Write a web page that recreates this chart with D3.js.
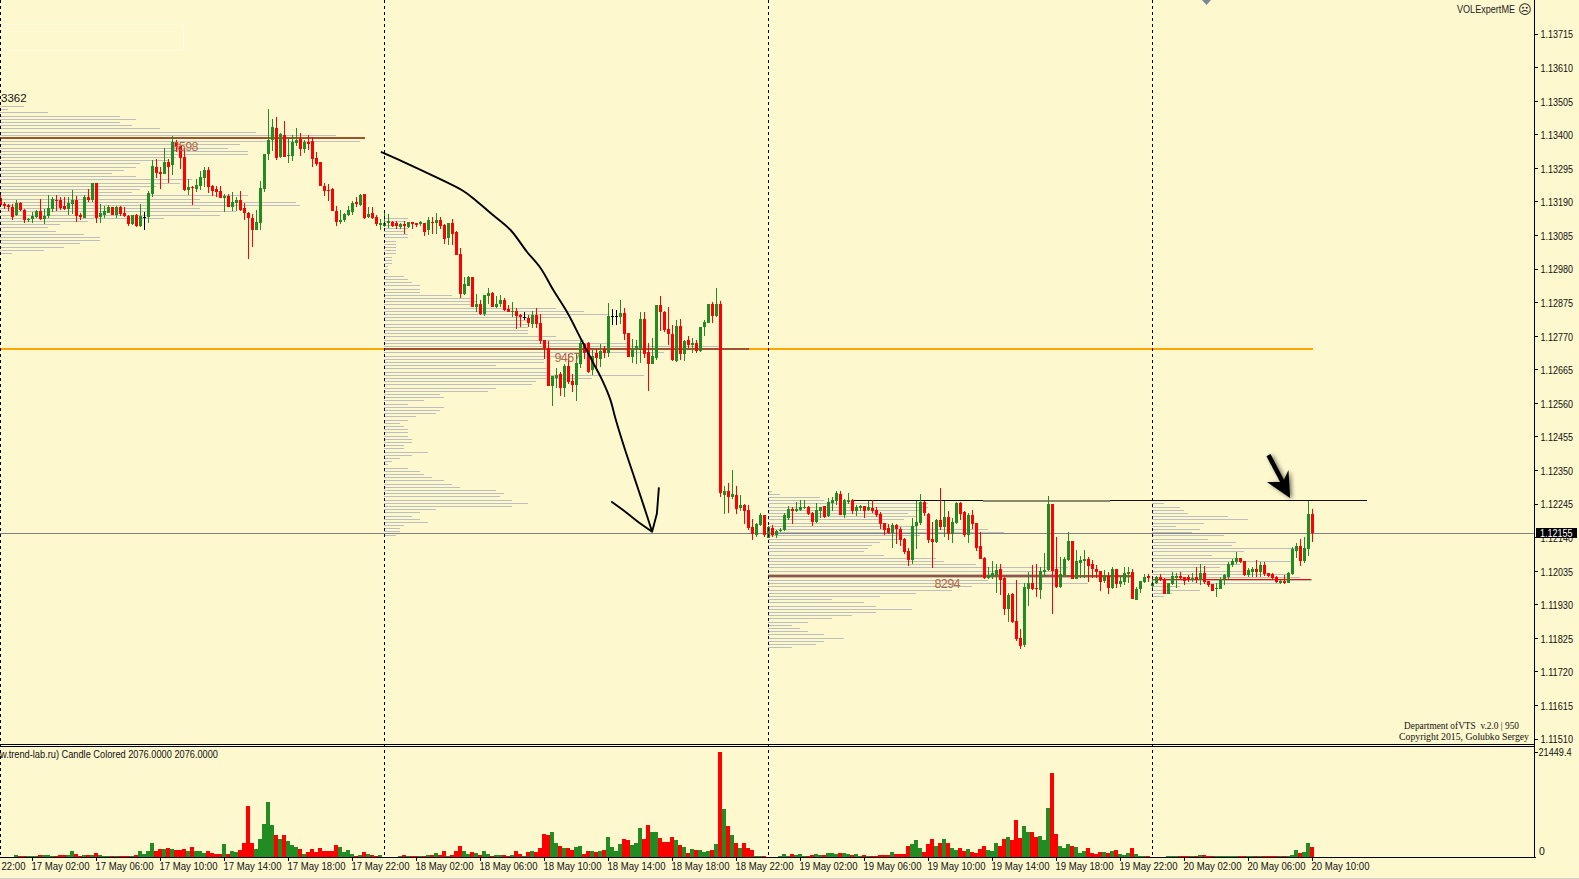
<!DOCTYPE html>
<html><head><meta charset="utf-8">
<script src="https://cdn.jsdelivr.net/npm/d3@7/dist/d3.min.js"></script>
<style>html,body{margin:0;padding:0;background:#FEF8CE;overflow:hidden}svg{display:block}text{font-family:"Liberation Sans",Arial,sans-serif}</style>
</head><body><div id="chart"></div>
<script>
// Prices in points above 1.00000 (13211 = 1.13211). One 15-minute candle per entry, starting 16 May 22:00.
const highs=[13211,13190,13183,13183,13196,13190,13169,13141,13159,13164,
13198,13169,13213,13206,13210,13206,13206,13204,13227,13208,
13156,13211,13229,13248,13248,13183,13177,13180,13175,13177,
13177,13173,13149,13149,13152,13183,13158,13225,13321,13323,
13298,13360,13323,13396,13383,13367,13357,13260,13241,13262,
13287,13298,13298,13242,13239,13239,13216,13216,13220,13205,
13223,13185,13159,13152,13166,13255,13339,13480,13448,13456,
13406,13442,13394,13399,13420,13404,13385,13399,13392,13345,
13315,13248,13245,13232,13177,13164,13156,13177,13193,13204,
13216,13214,13173,13173,13149,13135,13159,13152,13131,13131,
13125,13131,13128,13127,13123,13130,13125,13142,13144,13154,
13142,13120,13125,13136,13099,13045,12954,12958,12955,12902,
12883,12899,12920,12907,12896,12899,12888,12867,12877,12857,
12839,12847,12836,12849,12858,12839,12758,12756,12645,12669,
12659,12683,12714,12652,12716,12755,12750,12753,12727,12729,
12744,12739,12873,12855,12852,12883,12857,12781,12760,12758,
12847,12846,12750,12763,12867,12896,12850,12862,12805,12821,
12823,12758,12770,12763,12758,12800,12821,12871,12878,12920,
12880,12301,12310,12351,12301,12273,12245,12242,12197,12187,
12216,12211,12176,12178,12164,12169,12216,12239,12237,12252,
12258,12258,12239,12221,12249,12237,12239,12263,12266,12285,
12285,12260,12278,12260,12242,12242,12239,12254,12258,12237,
12220,12187,12182,12185,12182,12174,12138,12106,12200,12254,
12276,12255,12216,12190,12197,12295,12254,12223,12200,12252,
12250,12223,12216,12226,12185,12157,12078,12047,12066,12057,
12057,12016,11966,11966,12007,11853,11997,12032,12054,12057,
12047,12091,12270,12245,12141,12078,12078,12156,12128,12101,
12082,12101,12078,12070,12054,12036,12039,12033,12047,12042,
12020,12047,12049,12041,11986,12005,12026,12026,12018,12020,
12025,12012,11999,12033,12028,12033,12018,12023,12028,12049,
12057,12051,12004,11995,11997,12018,12026,12065,12072,12095,
12076,12068,12044,12049,12070,12065,12065,12030,12028,12020,
12007,12023,12033,12112,12122,12134,12141,12255,12228];
const lows=[13177,13168,13162,13133,13145,13162,13125,13127,13125,13139,
13133,13121,13141,13159,13162,13166,13166,13148,13151,13128,
13133,13140,13189,13190,13125,13125,13139,13154,13149,13141,
13145,13143,13114,13118,13112,13112,13102,13125,13206,13266,
13229,13277,13250,13274,13347,13294,13224,13211,13180,13222,
13227,13237,13218,13209,13204,13202,13159,13173,13162,13162,
13162,13133,13011,13049,13102,13102,13222,13321,13350,13321,
13327,13329,13310,13319,13364,13333,13344,13352,13300,13302,
13239,13208,13193,13161,13114,13120,13127,13145,13149,13173,
13177,13137,13138,13135,13116,13102,13112,13107,13110,13104,
13104,13088,13108,13106,13110,13115,13083,13085,13089,13090,
13104,13058,13055,13056,13024,12890,12900,12927,12860,12847,
12837,12833,12871,12860,12857,12862,12850,12847,12831,12793,
12800,12821,12800,12795,12795,12745,12700,12615,12552,12607,
12583,12581,12620,12596,12568,12669,12697,12654,12648,12669,
12674,12701,12704,12805,12805,12808,12758,12706,12685,12683,
12685,12701,12599,12683,12695,12787,12784,12743,12692,12690,
12695,12693,12732,12718,12716,12720,12770,12812,12812,12831,
12268,12214,12216,12262,12214,12224,12182,12164,12132,12141,
12176,12143,12139,12141,12139,12157,12161,12195,12182,12220,
12224,12230,12211,12176,12187,12200,12200,12205,12224,12242,
12211,12201,12245,12214,12207,12224,12201,12224,12216,12203,
12166,12148,12151,12107,12120,12114,12089,12051,12057,12105,
12179,12207,12124,12046,12124,12164,12141,12132,12124,12182,
12195,12141,12124,12166,12099,12072,12010,12009,12011,11966,
11960,11898,11876,11872,11815,11791,11797,11926,11976,11955,
11949,12018,12036,11901,11982,11982,12020,12068,12009,12009,
12012,12012,12001,12013,12013,11974,11997,11963,11980,11981,
11984,11992,11997,11947,11945,11966,11999,12001,11978,11995,
12003,11962,11963,11992,11983,12007,11992,12001,12002,11997,
11992,11994,11986,11972,11955,11978,11993,12011,12047,12057,
12059,12020,12016,12018,12018,12016,12020,12016,12009,11999,
11995,11995,11997,12022,12075,12051,12061,12082,12126];
const opens=[13201,13183,13179,13175,13149,13187,13164,13133,13137,13143,
13161,13136,13145,13168,13196,13196,13177,13168,13183,13196,
13149,13141,13204,13196,13248,13143,13149,13156,13174,13149,
13175,13156,13145,13120,13149,13114,13143,13143,13214,13298,
13283,13277,13315,13304,13378,13364,13329,13227,13237,13229,
13239,13265,13289,13239,13230,13224,13203,13209,13174,13187,
13196,13170,13156,13139,13102,13125,13229,13339,13383,13421,
13329,13398,13334,13333,13373,13387,13355,13378,13379,13326,
13314,13241,13227,13229,13162,13127,13133,13149,13159,13189,
13180,13214,13142,13154,13142,13118,13115,13125,13127,13125,
13110,13121,13110,13126,13123,13120,13125,13102,13127,13125,
13133,13119,13078,13125,13097,13027,12902,12927,12955,12860,
12871,12839,12896,12905,12860,12871,12883,12854,12848,12850,
12836,12829,12828,12808,12836,12810,12758,12733,12615,12639,
12652,12609,12677,12630,12618,12683,12745,12750,12664,12718,
12697,12729,12718,12833,12833,12831,12841,12779,12706,12732,
12727,12823,12719,12683,12702,12867,12846,12791,12777,12693,
12802,12714,12758,12742,12748,12725,12798,12812,12871,12833,
12871,12273,12286,12266,12273,12231,12242,12226,12172,12148,
12179,12211,12139,12169,12148,12161,12164,12200,12228,12222,
12226,12231,12237,12216,12189,12224,12239,12207,12249,12255,
12276,12211,12251,12258,12223,12231,12239,12226,12231,12226,
12214,12185,12169,12153,12179,12167,12137,12097,12070,12176,
12187,12251,12214,12136,12126,12195,12172,12203,12151,12185,
12247,12220,12148,12210,12185,12114,12076,12012,12017,12023,
12042,12013,11916,11963,11878,11826,11804,11980,11997,11982,
11976,12032,12039,12245,12041,11984,12023,12070,12128,12011,
12059,12067,12073,12056,12042,12035,12003,12020,11981,12042,
11995,12001,12026,12032,11945,11978,12001,12020,11988,11997,
12017,12010,11963,11995,12013,12020,12017,12017,12007,12018,
12008,12028,12004,11995,11978,11980,12009,12017,12054,12064,
12076,12067,12023,12033,12041,12032,12054,12028,12026,12018,
11999,12004,11999,12025,12099,12114,12068,12105,12214];
const closes=[13180,13177,13175,13143,13187,13164,13133,13136,13147,13162,
13137,13147,13170,13198,13192,13170,13168,13185,13196,13145,
13143,13206,13196,13248,13139,13154,13162,13174,13150,13175,
13152,13145,13120,13149,13114,13145,13143,13218,13302,13279,
13278,13314,13300,13378,13362,13327,13227,13236,13232,13242,
13267,13289,13235,13224,13220,13203,13207,13174,13190,13196,
13164,13156,13139,13102,13127,13233,13339,13383,13425,13326,
13402,13329,13335,13377,13385,13355,13378,13371,13325,13308,
13239,13225,13225,13162,13128,13133,13152,13164,13185,13183,
13211,13139,13152,13141,13120,13123,13125,13129,13115,13113,
13121,13113,13126,13121,13117,13126,13097,13133,13124,13133,
13113,13074,13124,13090,13024,12902,12933,12954,12860,12871,
12839,12899,12904,12860,12871,12883,12852,12847,12849,12833,
12829,12829,12812,12836,12808,12755,12732,12615,12645,12649,
12608,12677,12627,12618,12685,12750,12716,12659,12708,12702,
12725,12718,12833,12833,12833,12841,12777,12706,12732,12739,
12823,12714,12683,12708,12867,12846,12789,12776,12695,12802,
12714,12754,12742,12748,12725,12800,12815,12871,12833,12871,
12278,12286,12268,12276,12228,12242,12224,12169,12150,12182,
12211,12147,12174,12148,12161,12164,12211,12228,12224,12228,
12237,12237,12214,12189,12226,12235,12203,12252,12258,12280,
12211,12258,12258,12223,12237,12239,12224,12235,12222,12211,
12182,12164,12153,12179,12166,12132,12095,12070,12176,12188,
12251,12216,12132,12127,12195,12172,12203,12151,12189,12249,
12213,12148,12210,12182,12107,12074,12015,12024,12028,12039,
12007,11916,11961,11876,11823,11801,11985,11997,11980,11978,
12036,12039,12245,12036,11986,12026,12073,12128,12011,12066,
12070,12074,12051,12042,12032,12001,12020,11982,12042,11995,
12005,12028,12032,11949,11978,12003,12018,12013,11998,12016,
12007,11963,11999,12020,12021,12013,12005,12009,12012,12008,
12029,12002,11992,11974,11982,12009,12023,12057,12068,12077,
12064,12023,12039,12041,12032,12054,12026,12020,12012,12002,
12004,11999,12029,12104,12114,12068,12107,12214,12153];
const volumes=[0,0,0,0,340,205,205,205,205,205,
340,340,340,205,205,340,340,340,1160,550,
205,340,340,340,750,340,205,205,205,205,
205,205,205,205,340,1160,550,1160,2810,1160,
1575,1575,1850,1575,1370,1370,1575,1160,1985,1160,
1160,750,1160,750,550,550,2600,550,1160,960,
1370,2810,10410,2810,1575,3630,6710,11230,6510,4450,
3630,4450,3220,2400,1985,1575,550,960,1575,960,
1780,1160,1160,1160,2400,1985,960,1370,550,205,
340,960,550,340,205,340,0,0,0,0,
205,340,205,205,205,205,205,340,340,750,
340,1160,205,340,1160,2190,1160,550,960,750,
340,1160,550,205,340,340,340,205,340,1160,
550,205,960,1160,960,1920,4660,4450,5070,2810,
2190,1780,1780,1370,1985,2190,550,1160,1160,960,
1160,1370,4040,1985,1160,2600,3630,3425,2400,2810,
5890,3630,6510,5070,5070,3835,3010,3010,4040,3425,
2400,1985,750,1575,1370,1370,960,1160,1370,2600,
21440,9800,6300,4450,2810,1780,2810,1780,1370,205,
205,205,0,0,0,205,550,205,550,340,
550,205,205,340,550,340,340,750,750,550,
750,750,550,340,550,205,340,205,205,205,
340,340,340,960,550,550,550,2190,2600,3425,
1780,960,2600,3630,2190,2810,3630,2810,1780,1370,
1780,1160,1575,960,750,1575,2190,1370,1160,2810,
2190,3630,4040,3425,7535,3835,6300,5070,5070,4040,
4250,3425,10070,17260,4730,2260,1850,2670,2260,2055,
820,1230,1850,820,550,960,1030,820,1230,1440,
620,410,820,1850,620,205,205,205,0,0,
0,0,205,205,140,140,140,140,140,205,
340,340,140,140,140,140,140,140,205,205,
140,205,140,140,205,205,205,140,140,205,
140,205,140,410,1440,820,1030,2880,2055];

// Volume-at-price profiles, one row every 10 points going down from the top price.
const profile1Top=13490, profile1Start=0;
const profile1=[6,2,12,30,34,30,33,40,64,84,85,90,60,57,62,62,44,42,35,34,31,28,34,48,45,39,35,33,62,50,74,75,50,59,55,41,22,15,12,14,21,25,25,20,16,11,3];
const profile2Top=13139, profile2Start=96;
const profile2=[6,5,4,6,5,6,6,3,3,3,3,3,2,2,2,1,1,1,5,6,7,9,9,9,17,22,23,22,43,50,56,46,36,36,36,36,36,43,50,61,84,92,70,45,40,40,28,41,41,65,52,38,37,28,26,14,15,10,6,15,14,13,8,6,4,5,6,6,6,7,7,5,5,11,7,4,2,1,6,9,10,12,15,17,19,28,30,29,32,36,32,13,9,7,9,11,5,4,4,3];
const profile3Top=12287, profile3Start=192;
const profile3=[1,3,13,14,40,40,39,35,37,34,30,37,55,59,38,33,28,26,25,24,29,42,44,52,75,73,72,91,55,80,51,46,37,28,16,24,27,36,27,21,16,10,6,8,10,14,19,14,12,6];
const profile4Top=12247, profile4Start=288;
const profile4=[3,7,8,9,19,24,13,6,12,10,18,14,21,20,37,23,15,22,35,22,17,23,34,37,40,32,7,12,5,3];

const pocPrices=[13390,12731,12020,12009];
const pocFrom=[0,96,192,288];
const pocTo=[91.2,187.2,283.2,327.8];
const pocLabels=["8598","9467","8294"];
const pocLabelBars=[43,138.5,233.5];
const pocLabelPrices=[13364,12704,11995];

const orangePrice=12731, resistancePrice=12258, currentPrice=1.12155;
const priceTicks=[1.13715,1.13610,1.13505,1.13400,1.13295,1.13190,1.13085,1.12980,1.12875,1.12770,1.12665,1.12560,1.12455,1.12350,1.12245,1.12140,1.12035,1.11930,1.11825,1.11720,1.11615,1.11510];
const timeTickBars=[-8,8,24,40,56,72,88,104,120,136,152,168,184,200,216,232,248,264,280,296,312,328];
const timeTickLabels=["16 May 22:00","17 May 02:00","17 May 06:00","17 May 10:00","17 May 14:00","17 May 18:00","17 May 22:00","18 May 02:00","18 May 06:00","18 May 10:00","18 May 14:00","18 May 18:00","18 May 22:00","19 May 02:00","19 May 06:00","19 May 10:00","19 May 14:00","19 May 18:00","19 May 22:00","20 May 02:00","20 May 06:00","20 May 10:00"];
const dayBars=[0,96,192,288];
const volumeMax=21449.4;

// Hand-drawn annotation, in bar index and points
const curveBars=[95.1,100.7,108.2,115.7,118.7,122.5,127.5,131.6,135,138.2,141.6,145,148.2,150.4,152.5,153.7,156,158.5,161,162.9];
const curvePrices=[13346,13315,13271,13224,13196,13155,13102,13034,12983,12914,12846,12764,12686,12633,12570,12514,12420,12326,12232,12158];
const barbBars=[152.7,156.2,159.5,162.9,164.1,164.6];
const barbPrices=[12253,12221,12188,12158,12215,12297];
const arrowShaftBars=[317,320.9];
const arrowShaftPrices=[12398,12305];
const arrowHeadBars=[322.4,322,320.6,316.6];
const arrowHeadPrices=[12264,12351,12314,12314];

const W=1579,H=879,AX=1534.5,BASE=857;
const price=v=>1+v/1e5;
const x=d3.scaleLinear().domain([0,328]).range([0.5,1312.5]);
const y=d3.scaleLinear().domain([1.13715,1.11510]).range([34,739]);
const yv=d3.scaleLinear().domain([0,volumeMax]).range([BASE,752.4]);
const GREEN="#228B22",RED="#FF0000",GRAY="#BEBEBE",SIENNA="#A0522D";
const widthPx=d3.scaleLinear().domain([0,100]).range([0,400]);

const svg=d3.select("#chart").append("svg").attr("width",W).attr("height",H).attr("viewBox",`0 0 ${W} ${H}`);
svg.append("rect").attr("width",W).attr("height",H).attr("fill","#FEF8CE");
svg.append("defs").append("clipPath").attr("id","main").append("rect").attr("width",AX).attr("height",744);
const crisp=svg.append("g").attr("shape-rendering","crispEdges");
const main=crisp.append("g").attr("clip-path","url(#main)");

// faint object box top-left
main.append("rect").attr("x",4.5).attr("y",24.5).attr("width",179).attr("height",26).attr("fill","none").attr("stroke","#FFFBDF");

// profiles
[[profile1,profile1Top,profile1Start],[profile2,profile2Top,profile2Start],[profile3,profile3Top,profile3Start],[profile4,profile4Top,profile4Start]].forEach(([rows,top,start])=>{
  main.append("g").selectAll("rect").data(rows).join("rect")
    .attr("x",x(start)-0.5).attr("y",(d,k)=>Math.round(y(price(top-10*k))))
    .attr("width",d=>widthPx(d)).attr("height",1).attr("fill",GRAY);
});

// levels
main.append("rect").attr("x",0).attr("y",Math.round(y(price(orangePrice)))-1).attr("width",x(328)).attr("height",2).attr("fill","#FFA500");
main.append("g").selectAll("rect").data(pocPrices).join("rect")
  .attr("x",(d,k)=>x(pocFrom[k])-0.5).attr("y",(d,k)=>Math.round(y(price(d)))-(k===3?0:1))
  .attr("width",(d,k)=>x(pocTo[k])-x(pocFrom[k])).attr("height",(d,k)=>k===3?1:2)
  .attr("fill",(d,k)=>k===3?RED:SIENNA);
main.append("rect").attr("x",0).attr("y",Math.round(y(currentPrice))).attr("width",AX).attr("height",1).attr("fill","#808080");
main.append("rect").attr("x",x(213.4)).attr("y",Math.round(y(price(resistancePrice)))).attr("width",x(341.6)-x(213.4)).attr("height",1).attr("fill","#111");
main.append("rect").attr("x",x(245.5)).attr("y",Math.round(y(price(resistancePrice)))).attr("width",x(277.4)-x(245.5)).attr("height",2).attr("fill","#8A8A70");

// candles
const idx=d3.range(highs.length);
const candleColor=i=>closes[i]===opens[i]?"#000":(closes[i]>opens[i]?GREEN:RED);
main.append("g").selectAll("rect").data(idx).join("rect")
  .attr("x",i=>x(i)-0.5).attr("width",1)
  .attr("y",i=>Math.round(y(price(highs[i]))))
  .attr("height",i=>Math.max(1,Math.round(y(price(lows[i])))-Math.round(y(price(highs[i])))))
  .attr("fill",candleColor);
main.append("g").selectAll("rect").data(idx).join("rect")
  .attr("x",i=>x(i)-1.5).attr("width",3)
  .attr("y",i=>Math.round(y(price(Math.max(opens[i],closes[i])))))
  .attr("height",i=>Math.max(1,Math.round(y(price(Math.min(opens[i],closes[i]))))-Math.round(y(price(Math.max(opens[i],closes[i]))))))
  .attr("fill",candleColor);

// day separators
crisp.append("g").selectAll("line").data(dayBars).join("line")
  .attr("x1",d=>x(d)).attr("x2",d=>x(d)).attr("y1",0).attr("y2",BASE)
  .attr("stroke","#000").attr("stroke-dasharray","3,3");

// volume
crisp.append("g").selectAll("rect").data(idx.filter(i=>volumes[i]>0)).join("rect")
  .attr("x",i=>x(i)-2.5).attr("width",4)
  .attr("y",i=>Math.round(yv(volumes[i]))).attr("height",i=>BASE-Math.round(yv(volumes[i])))
  .attr("fill",i=>closes[i]>=opens[i]?GREEN:RED);

// panel frame
crisp.append("rect").attr("x",0).attr("y",744).attr("width",AX).attr("height",1).attr("fill","#000");
crisp.append("rect").attr("x",0).attr("y",746).attr("width",AX).attr("height",1).attr("fill","#000");
crisp.append("rect").attr("x",0).attr("y",BASE).attr("width",AX+1).attr("height",1).attr("fill","#000");
crisp.append("rect").attr("x",AX-0.5).attr("y",0).attr("width",1).attr("height",BASE+1).attr("fill","#000");
crisp.append("rect").attr("x",0).attr("y",878).attr("width",W).attr("height",1).attr("fill","#D4D0C8");

// price axis
const yAxis=d3.axisRight(y).tickValues(priceTicks).tickFormat(d3.format(".5f")).tickSize(3).tickPadding(2).offset(0);
const gy=svg.append("g").attr("transform",`translate(${AX},0)`).call(yAxis);
gy.select(".domain").remove();
gy.selectAll("line").attr("stroke","#000").attr("shape-rendering","crispEdges");
gy.selectAll("text").attr("x",6).attr("y",1).attr("fill","#111").attr("font-size",10.5).attr("font-family",'"Liberation Sans",Arial,sans-serif')
  .attr("textLength",32.5).attr("lengthAdjust","spacingAndGlyphs");

// current price tag
svg.append("rect").attr("x",1536).attr("y",528).attr("width",41).attr("height",10).attr("fill","#000").attr("shape-rendering","crispEdges");
svg.append("text").attr("x",1540).attr("y",533).attr("dy","0.36em").attr("fill","#fff").attr("font-size",10.5)
  .attr("textLength",32.5).attr("lengthAdjust","spacingAndGlyphs").text(d3.format(".5f")(currentPrice));

// volume axis labels
const gv=svg.append("g").attr("transform",`translate(${AX},0)`).call(d3.axisRight(yv).tickValues([volumeMax]).tickFormat(d=>d).tickSize(3).offset(0));
gv.select(".domain").remove();
gv.selectAll("line").attr("stroke","#000").attr("shape-rendering","crispEdges");
gv.selectAll("text").attr("x",4).attr("fill","#111").attr("font-size",10.5).attr("font-family",'"Liberation Sans",Arial,sans-serif')
  .attr("textLength",33).attr("lengthAdjust","spacingAndGlyphs");
svg.append("text").attr("x",1539).attr("y",851).attr("dy","0.36em").attr("fill","#111").attr("font-size",10.5).text("0");

// time axis
const xAxis=d3.axisBottom(x).tickValues(timeTickBars).tickFormat((d,k)=>timeTickLabels[k]).tickSize(4).offset(0);
const gx=svg.append("g").attr("transform",`translate(0,${BASE})`).call(xAxis);
gx.select(".domain").remove();
gx.selectAll("line").attr("stroke","#000").attr("shape-rendering","crispEdges");
gx.selectAll("text").attr("x",-1).attr("y",5).attr("dy","0.75em").attr("text-anchor","start").attr("fill","#111").attr("font-size",10.5)
  .attr("font-family",'"Liberation Sans",Arial,sans-serif').attr("textLength",58).attr("lengthAdjust","spacingAndGlyphs");

// POC labels
svg.append("g").selectAll("text").data(pocLabels).join("text")
  .attr("x",(d,k)=>x(pocLabelBars[k])).attr("y",(d,k)=>y(price(pocLabelPrices[k]))).attr("dy","0.36em")
  .attr("fill","#B0694A").attr("font-size",12.5).attr("textLength",26).text(d=>d);
svg.append("text").attr("x",1).attr("y",97.7).attr("dy","0.36em").attr("fill","#111").attr("font-size",11.5).text("3362");

// hand drawing
const line=d3.line().x(d=>x(d[0])).y(d=>y(price(d[1]))).curve(d3.curveLinear);
const smooth=d3.line().x(d=>x(d[0])).y(d=>y(price(d[1]))).curve(d3.curveCatmullRom.alpha(0.5));
svg.append("path").attr("d",smooth(curveBars.map((b,k)=>[b,curvePrices[k]]))).attr("fill","none").attr("stroke","#000").attr("stroke-width",1.9).attr("stroke-linejoin","round");
svg.append("path").attr("d",line(barbBars.map((b,k)=>[b,barbPrices[k]]))).attr("fill","none").attr("stroke","#000").attr("stroke-width",1.9).attr("stroke-linejoin","round");

const arrow=svg.append("g").style("filter","drop-shadow(2px 1px 2px rgba(0,0,0,0.55))");
arrow.append("path").attr("d",line(arrowShaftBars.map((b,k)=>[b,arrowShaftPrices[k]]))).attr("fill","none").attr("stroke","#000").attr("stroke-width",4.5);
arrow.append("path").attr("d",line(arrowHeadBars.map((b,k)=>[b,arrowHeadPrices[k]]))+"Z").attr("fill","#000");

// texts
svg.append("text").attr("x",1457).attr("y",9).attr("dy","0.36em").attr("fill","#222").attr("font-size",10).attr("textLength",58).attr("lengthAdjust","spacingAndGlyphs").text("VOLExpertME");
svg.append("text").attr("x",1518).attr("y",9).attr("dy","0.36em").attr("fill","#222").attr("font-size",13).style("font-family",'"DejaVu Sans"').text("\u2639");
svg.append("text").attr("x",1404).attr("y",725).attr("dy","0.36em").attr("fill","#111").attr("font-size",10).style("font-family",'"Liberation Serif"').attr("textLength",115).attr("lengthAdjust","spacingAndGlyphs").attr("xml:space","preserve").text("Department ofVTS  v.2.0 | 950");
svg.append("text").attr("x",1399).attr("y",736).attr("dy","0.36em").attr("fill","#111").attr("font-size",10).style("font-family",'"Liberation Serif"').attr("textLength",130).attr("lengthAdjust","spacingAndGlyphs").text("Copyright 2015, Golubko Sergey");
svg.append("text").attr("x",0).attr("y",754.7).attr("dy","0.36em").attr("fill","#111").attr("font-size",10).attr("textLength",218).attr("lengthAdjust","spacingAndGlyphs").text("w.trend-lab.ru) Candle Colored 2076.0000 2076.0000");

// diamond object clipped by the window top
svg.append("path").attr("d",d3.line()([[1202,0],[1211,0],[1206.5,5]])+"Z").attr("fill","#778899");
</script></body></html>
